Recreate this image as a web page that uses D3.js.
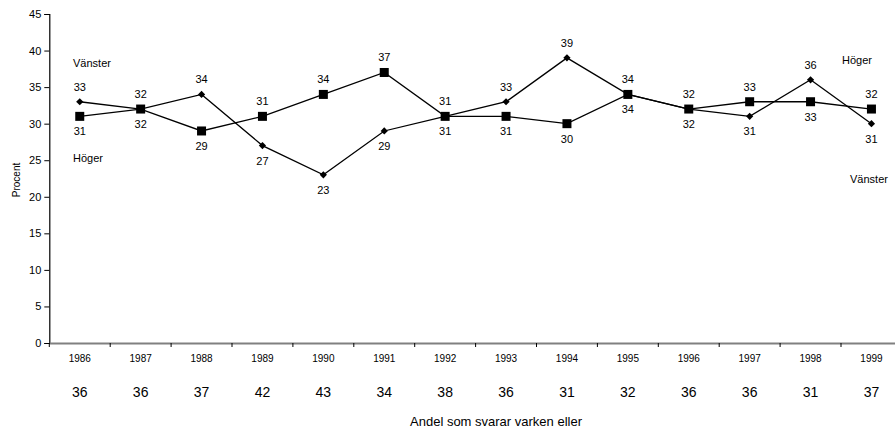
<!DOCTYPE html>
<html>
<head>
<meta charset="utf-8">
<script src="https://cdn.jsdelivr.net/npm/d3@7"></script>
<style>
  body { margin: 0; background: #fff; }
  text { font-family: "Liberation Sans", Arial, Helvetica, sans-serif; fill: #000; }
</style>
</head>
<body>
<div id="chart"></div>
<script>
// data
var years = ["1986","1987","1988","1989","1990","1991","1992","1993","1994","1995","1996","1997","1998","1999"];
var vanster = [33, 32, 34, 27, 23, 29, 31, 33, 39, 34, 32, 31, 36, 30];
var vansterLabels = [33, 32, 34, 27, 23, 29, 31, 33, 39, 34, 32, 31, 36, 31];
var hoger = [31, 32, 29, 31, 34, 37, 31, 31, 30, 34, 32, 33, 33, 32];
var varkenEller = [36, 36, 37, 42, 43, 34, 38, 36, 31, 32, 36, 36, 31, 37];
var yTicks = [0, 5, 10, 15, 20, 25, 30, 35, 40, 45];

var W = 895, H = 431;
var plotLeft = 49.3, bandW = 60.9;
var plotTop = 14, plotBottom = 343;

var svg = d3.select("#chart").append("svg")
    .attr("width", W)
    .attr("height", H);

var x = d3.scaleBand()
    .domain(years)
    .range([plotLeft, plotLeft + bandW * years.length]);

var y = d3.scaleLinear()
    .domain([0, 45])
    .range([plotBottom, plotTop]);

function cx(d, i) { return x(years[i]) + x.bandwidth() / 2; }

// y axis
var yAxis = svg.append("g")
    .attr("transform", "translate(" + plotLeft + ",0)")
    .call(d3.axisLeft(y).tickValues(yTicks).tickSize(5).tickPadding(3));
yAxis.select(".domain").attr("stroke", "#000").attr("stroke-width", 1.2);
yAxis.selectAll(".tick line").attr("stroke", "#000");
yAxis.selectAll("text").style("font-size", "11px").attr("fill", "#000");

// x axis
var xAxis = svg.append("g")
    .attr("transform", "translate(0," + plotBottom + ")")
    .call(d3.axisBottom(x).tickSize(0).tickPadding(12));
xAxis.select(".domain").attr("stroke", "#808080").attr("stroke-width", 2);
xAxis.selectAll("text").style("font-size", "10px").attr("fill", "#000");

// small tick marks between categories
svg.append("g").selectAll("line")
    .data(years)
    .join("line")
    .attr("x1", function(d) { return x(d); })
    .attr("x2", function(d) { return x(d); })
    .attr("y1", plotBottom)
    .attr("y2", plotBottom + 4)
    .attr("stroke", "#000");

// second row under the years
svg.append("g").selectAll("text")
    .data(varkenEller)
    .join("text")
    .attr("x", cx)
    .attr("y", 397)
    .attr("text-anchor", "middle")
    .style("font-size", "14px")
    .text(function(d) { return d; });

svg.append("text")
    .attr("x", 496)
    .attr("y", 426)
    .attr("text-anchor", "middle")
    .style("font-size", "13px")
    .text("Andel som svarar varken eller");

svg.append("text")
    .attr("transform", "translate(20,180) rotate(-90)")
    .attr("text-anchor", "middle")
    .style("font-size", "10px")
    .text("Procent");

// lines
var line = d3.line()
    .x(function(d, i) { return cx(d, i); })
    .y(function(d) { return y(d); });

svg.append("path").datum(hoger)
    .attr("d", line)
    .attr("fill", "none")
    .attr("stroke", "#000")
    .attr("stroke-width", 1.3);

svg.append("path").datum(vanster)
    .attr("d", line)
    .attr("fill", "none")
    .attr("stroke", "#000")
    .attr("stroke-width", 1.3);

// markers
svg.append("g").selectAll("rect")
    .data(hoger)
    .join("rect")
    .attr("x", function(d, i) { return cx(d, i) - 4.5; })
    .attr("y", function(d) { return y(d) - 4.5; })
    .attr("width", 9)
    .attr("height", 9)
    .attr("fill", "#000");

var diamond = d3.symbol().type(d3.symbolSquare).size(26);
svg.append("g").selectAll("path")
    .data(vanster)
    .join("path")
    .attr("d", diamond)
    .attr("transform", function(d, i) {
        return "translate(" + cx(d, i) + "," + y(d) + ") rotate(45)";
    })
    .attr("fill", "#000");

// data labels: above when the series is on top, below when underneath
function labelY(v, other, first) {
    var above = v > other || (v === other && first);
    return y(v) + (above ? -15 : 15) + 4;
}

svg.append("g").selectAll("text")
    .data(vanster)
    .join("text")
    .attr("x", cx)
    .attr("y", function(d, i) { return labelY(d, hoger[i], true); })
    .attr("text-anchor", "middle")
    .style("font-size", "11px")
    .text(function(d, i) { return vansterLabels[i]; });

svg.append("g").selectAll("text")
    .data(hoger)
    .join("text")
    .attr("x", cx)
    .attr("y", function(d, i) { return labelY(d, vanster[i], false); })
    .attr("text-anchor", "middle")
    .style("font-size", "11px")
    .text(function(d) { return d; });

// series names
var names = [
    { t: "Vänster", x: 73, y: 67, a: "start" },
    { t: "Höger", x: 73, y: 162, a: "start" },
    { t: "Höger", x: 842, y: 64, a: "start" },
    { t: "Vänster", x: 850, y: 183, a: "start" }
];
svg.append("g").selectAll("text")
    .data(names)
    .join("text")
    .attr("x", function(d) { return d.x; })
    .attr("y", function(d) { return d.y; })
    .attr("text-anchor", function(d) { return d.a; })
    .style("font-size", "11px")
    .text(function(d) { return d.t; });
</script>
</body>
</html>
